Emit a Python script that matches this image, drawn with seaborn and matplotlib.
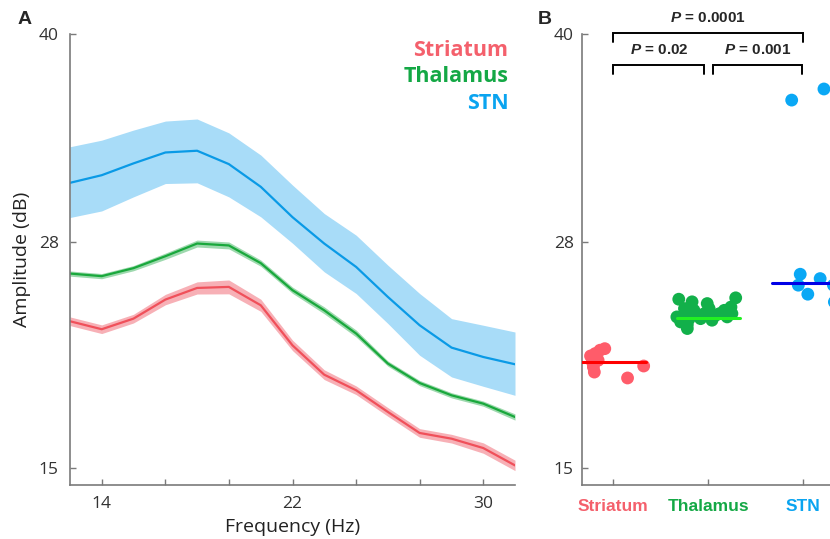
import numpy as np
import pandas as pd
import matplotlib
matplotlib.use("Agg")
import matplotlib.pyplot as plt
import seaborn as sns

# ---- data ----
freqs = [12.67, 14.0, 15.33, 16.67, 18.0, 19.33, 20.67, 22.0, 23.33, 24.67,
         26.0, 27.33, 28.67, 30.0, 31.33]

stn_mean = [31.42, 31.86, 32.54, 33.17, 33.27, 32.50, 31.19, 29.44, 27.92, 26.57,
            24.84, 23.21, 21.92, 21.38, 20.96]
stn_upper = [33.50, 33.88, 34.46, 34.98, 35.10, 34.30, 33.02, 31.29, 29.65, 28.40,
             26.67, 25.04, 23.59, 23.21, 22.82]
stn_lower = [29.42, 29.80, 30.61, 31.38, 31.42, 30.61, 29.46, 27.94, 26.29, 25.04,
             23.31, 21.48, 20.23, 19.69, 19.17]

thal_mean = [26.19, 26.04, 26.50, 27.19, 27.92, 27.81, 26.79, 25.23, 24.07, 22.73,
             21.00, 19.88, 19.17, 18.69, 17.92]
thal_sem = [0.15, 0.15, 0.15, 0.18, 0.2, 0.2, 0.18, 0.18, 0.2, 0.2,
            0.15, 0.15, 0.15, 0.15, 0.18]

str_mean = [23.44, 22.98, 23.59, 24.69, 25.36, 25.42, 24.36, 22.05, 20.36, 19.46,
            18.21, 17.00, 16.67, 16.13, 15.13]
str_sem = [0.25, 0.25, 0.25, 0.3, 0.35, 0.4, 0.35, 0.3, 0.28, 0.25,
           0.25, 0.25, 0.25, 0.3, 0.3]

regions = ["Striatum", "Thalamus", "STN"]

striatum_pts = [21.44, 21.58, 21.77, 21.86, 20.80, 20.51, 21.19, 20.86, 20.17, 21.09]
striatum_jit = [-0.24, -0.19, -0.14, -0.09, -0.21, -0.20, -0.16, 0.32, 0.15, -0.22]

thalamus_pts = [24.71, 24.56, 24.46, 24.79, 24.26, 24.07, 23.88, 23.50, 24.07, 23.79,
                23.69, 23.40, 23.25, 23.88, 23.88, 24.17, 23.69, 23.59, 23.59, 23.79,
                23.88, 24.17, 23.02]
thalamus_jit = [-0.31, -0.17, -0.01, 0.29, 0.24, 0.17, 0.12, 0.04, -0.15, -0.11,
                -0.33, -0.29, -0.22, -0.23, -0.04, 0.01, 0.20, -0.20, -0.08, 0.08,
                0.25, -0.25, -0.22]

stn_pts = [26.15, 25.52, 25.00, 25.90, 25.52, 24.55, 36.19, 36.83]
stn_jit = [-0.03, -0.05, 0.05, 0.18, 0.32, 0.33, -0.12, 0.22]

group_means = [21.09, 23.65, 25.67]

pvals = ["0.02", "0.001", "0.0001"]

# ---- colours ----
line_cols = ["#F0505A", "#19A83C", "#0A9AE6"]
band_cols = ["#F7B0B6", "#9ED9AE", "#A8DCF8"]
text_cols = ["#F4606C", "#14A845", "#0AA4F0"]
dot_cols = ["#FF5C6A", "#12B04A", "#0AA8F5"]
mean_cols = ["#FF0000", "#22F022", "#0000E6"]

sns.set_theme(style="ticks")
plt.rcParams["font.family"] = ["Open Sans", "DejaVu Sans"]
plt.rcParams["mathtext.fontset"] = "custom"
plt.rcParams["mathtext.bfit"] = "Liberation Sans:italic:bold"
plt.rcParams["mathtext.rm"] = "Liberation Sans"

fig = plt.figure(figsize=(8.3, 5.39), dpi=100)
axA = fig.add_axes([70 / 830, 54 / 539, 445 / 830, 451 / 539])
axB = fig.add_axes([582 / 830, 54 / 539, 278 / 830, 451 / 539])

grey = "#7a7a7a"

# ---- panel A ----
df_a = pd.DataFrame({
    "freq": freqs * 3,
    "amp": stn_mean + thal_mean + str_mean,
    "region": ["STN"] * len(freqs) + ["Thalamus"] * len(freqs) + ["Striatum"] * len(freqs),
})
axA.fill_between(freqs, stn_lower, stn_upper, color=band_cols[2], lw=0, zorder=1)
axA.fill_between(freqs, np.array(thal_mean) - thal_sem, np.array(thal_mean) + thal_sem,
                 color=band_cols[1], lw=0, zorder=1)
axA.fill_between(freqs, np.array(str_mean) - str_sem, np.array(str_mean) + str_sem,
                 color=band_cols[0], lw=0, zorder=1)
sns.lineplot(data=df_a, x="freq", y="amp", hue="region", hue_order=regions,
             palette=line_cols, linewidth=1.6, legend=False, ax=axA, zorder=2)

axA.set_xlim(freqs[0], freqs[-1])
axA.set_ylim(14, 40)
axA.set_xticks([14, 16.67, 19.33, 22, 24.67, 27.33, 30])
axA.set_xticklabels(["14", "", "", "22", "", "", "30"])
axA.set_yticks([15, 28, 40])
axA.set_xlabel("Frequency (Hz)", fontsize=14, color="#222222", labelpad=4)
axA.set_ylabel("Amplitude (dB)", fontsize=14, color="#222222")

ys = [0.9645, 0.9047, 0.847]
for name, c, y in zip(regions, text_cols, ys):
    axA.text(0.985, y, name, transform=axA.transAxes, ha="right", va="center",
             fontsize=15.5, fontweight="bold", color=c)

# ---- panel B ----
df_b = pd.DataFrame({
    "pos": [0 + j for j in striatum_jit] + [1 + j for j in thalamus_jit] + [2 + j for j in stn_jit],
    "amp": striatum_pts + thalamus_pts + stn_pts,
    "region": ["Striatum"] * len(striatum_pts) + ["Thalamus"] * len(thalamus_pts) + ["STN"] * len(stn_pts),
})
sns.scatterplot(data=df_b, x="pos", y="amp", hue="region", hue_order=regions,
                palette=dot_cols, s=85, linewidth=0, legend=False, ax=axB, zorder=2)
for i, m in enumerate(group_means):
    axB.plot([i - 0.33, i + 0.34], [m, m], color=mean_cols[i], lw=2.2, zorder=3)

axB.set_xlim(-0.33, 2.6)
axB.set_ylim(14, 40)
axB.set_xticks([0, 1, 2])
axB.set_xticklabels(regions)
axB.set_yticks([15, 28, 40])
axB.set_xlabel("")
axB.set_ylabel("")

# significance brackets
def bracket(ax, x0, x1, y, h, label):
    ax.plot([x0, x0, x1, x1], [y - h, y, y, y - h], color="black", lw=1.4,
            clip_on=False, solid_joinstyle="miter")
    ax.text((x0 + x1) / 2, y + 0.45, r"$\bfit{P}$" + " = " + label, ha="center", va="bottom",
            fontsize=11, fontweight="bold", family="Liberation Sans", clip_on=False)

bracket(axB, 0.0, 0.96, 38.2, 0.5, pvals[0])
bracket(axB, 1.05, 1.99, 38.2, 0.5, pvals[1])
bracket(axB, 0.0, 2.0, 40.05, 0.5, pvals[2])

for ax in (axA, axB):
    sns.despine(ax=ax)
    for sp in ("left", "bottom"):
        ax.spines[sp].set_color(grey)
        ax.spines[sp].set_linewidth(1.2)
    ax.tick_params(direction="in", length=4, width=1.0, color=grey,
                   labelsize=12.5, labelcolor="#333333")
axA.tick_params(axis="x", pad=8)
axB.tick_params(axis="x", pad=10)
axA.tick_params(axis="y", pad=8)
axB.tick_params(axis="y", pad=6)
axA.yaxis.set_label_coords(-0.088, 0.5)

for lab, c in zip(axB.get_xticklabels(), text_cols):
    lab.set_color(c)
    lab.set_fontweight("bold")
    lab.set_fontfamily("Liberation Sans")
    lab.set_fontsize(12.5)

fig.text(18 / 830, 1 - 20 / 539, "A", fontsize=14, fontweight="bold",
         family="Liberation Sans", ha="left", va="center")
fig.text(538 / 830, 1 - 20 / 539, "B", fontsize=14, fontweight="bold",
         family="Liberation Sans", ha="left", va="center")

fig.savefig("out.png", dpi=100)
